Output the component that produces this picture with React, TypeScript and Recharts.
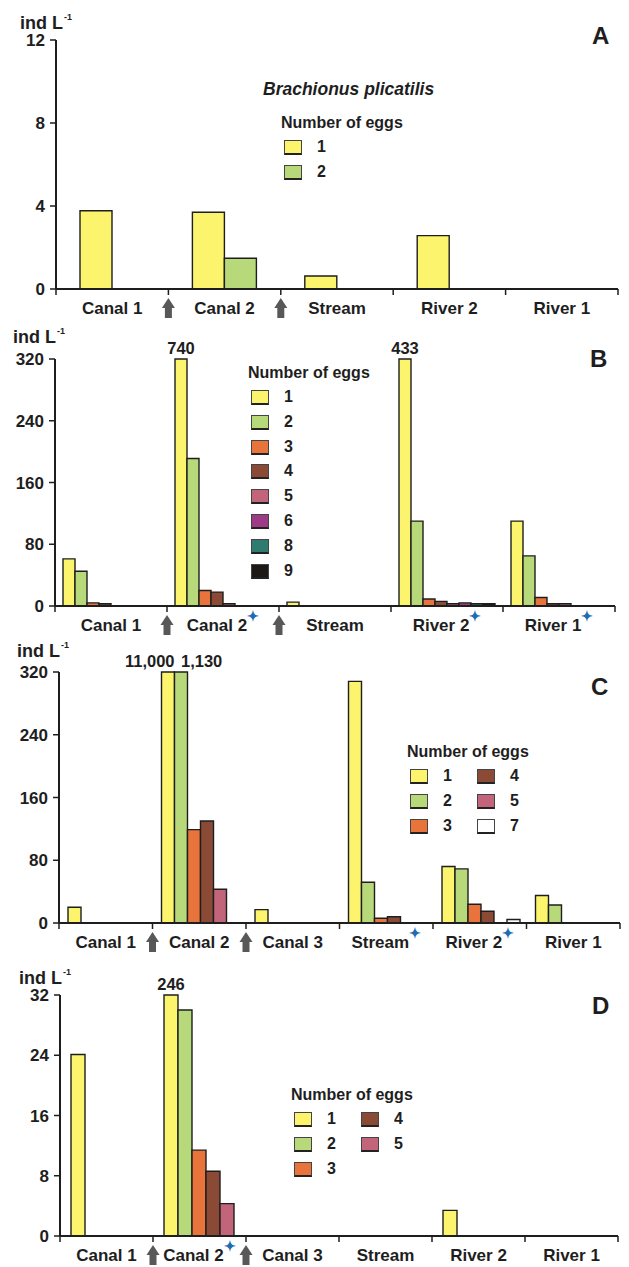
import React from "react";
import { BarChart, Bar, XAxis, YAxis, Legend, LabelList } from "recharts";

const FONT = "'Liberation Sans', Arial, Helvetica, sans-serif";
const INK = "#1e1e1e";
const STAR = "#1c6db3";

const EGG_COLORS: Record<string, string> = {
  "1": "#fbf46c",
  "2": "#b8d97a",
  "3": "#e8743c",
  "4": "#8b4a36",
  "5": "#c2657a",
  "6": "#9e3b86",
  "7": "#ffffff",
  "8": "#2e7b70",
  "9": "#1c1917",
};

// A - Brachionus plicatilis
const catsA = ["Canal 1", "Canal 2", "Stream", "River 2", "River 1"];
const ticksA = [0, 4, 8, 12];
const a1 = [3.77, 3.7, 0.63, 2.57, 0];
const a2 = [0, 1.48, 0, 0, 0];

// B
const catsB = ["Canal 1", "Canal 2", "Stream", "River 2", "River 1"];
const ticksB = [0, 80, 160, 240, 320];
const b1 = [61, 740, 5, 433, 110];
const b2 = [45, 191, 0, 110, 65];
const b3 = [4, 20, 0, 9, 11];
const b4 = [3, 18, 0, 6, 3];
const b5 = [0, 3, 0, 3, 3];
const b6 = [0, 0, 0, 4, 0];
const b8 = [0, 0, 0, 3, 0];
const b9 = [0, 0, 0, 3, 0];

// C
const catsC = ["Canal 1", "Canal 2", "Canal 3", "Stream", "River 2", "River 1"];
const ticksC = [0, 80, 160, 240, 320];
const c1 = [20, 11000, 17, 308, 72, 35];
const c2 = [0, 1130, 0, 52, 69, 23];
const c3 = [0, 119, 0, 6, 24, 0];
const c4 = [0, 130, 0, 8, 15, 0];
const c5 = [0, 43, 0, 0, 0, 0];
const c7 = [0, 0, 0, 0, 4.5, 0];

// D
const catsD = ["Canal 1", "Canal 2", "Canal 3", "Stream", "River 2", "River 1"];
const ticksD = [0, 8, 16, 24, 32];
const d1 = [24.1, 246, 0, 0, 3.4, 0];
const d2 = [0, 30, 0, 0, 0, 0];
const d3 = [0, 11.4, 0, 0, 0, 0];
const d4 = [0, 8.6, 0, 0, 0, 0];
const d5 = [0, 4.3, 0, 0, 0, 0];

type Series = { egg: string; values: number[] };
type Panel = {
  letter: string;
  top: number;
  height: number;
  plot: { left: number; right: number; top: number; bottom: number };
  cats: string[];
  ticks: number[];
  series: Series[];
  gap: number;
  arrows: number[];
  stars: string[];
  legend: { left: number; top: number; rows: number; step: number; species?: string };
  indL: { x: number; y: number };
  letterPos: { x: number; y: number };
  overflowAnchor?: string[];
};

const panels: Panel[] = [
  {
    letter: "A",
    top: 0,
    height: 320,
    plot: { left: 56, right: 618, top: 40, bottom: 289 },
    cats: catsA,
    ticks: ticksA,
    series: [
      { egg: "1", values: a1 },
      { egg: "2", values: a2 },
    ],
    gap: 24,
    arrows: [1, 2],
    stars: [],
    legend: { left: 281, top: 113, rows: 2, step: 24.5, species: "Brachionus plicatilis" },
    indL: { x: 20, y: 29 },
    letterPos: { x: 592, y: 44 },
  },
  {
    letter: "B",
    top: 320,
    height: 320,
    plot: { left: 55, right: 615, top: 359, bottom: 606 },
    cats: catsB,
    ticks: ticksB,
    series: [
      { egg: "1", values: b1 },
      { egg: "2", values: b2 },
      { egg: "3", values: b3 },
      { egg: "4", values: b4 },
      { egg: "5", values: b5 },
      { egg: "6", values: b6 },
      { egg: "8", values: b8 },
      { egg: "9", values: b9 },
    ],
    gap: 8,
    arrows: [1, 2],
    stars: ["Canal 2", "River 2", "River 1"],
    legend: { left: 248, top: 43, rows: 8, step: 24.8 },
    indL: { x: 13, y: 343 },
    letterPos: { x: 590, y: 367 },
  },
  {
    letter: "C",
    top: 640,
    height: 320,
    plot: { left: 59, right: 620, top: 672, bottom: 923 },
    cats: catsC,
    ticks: ticksC,
    series: [
      { egg: "1", values: c1 },
      { egg: "2", values: c2 },
      { egg: "3", values: c3 },
      { egg: "4", values: c4 },
      { egg: "5", values: c5 },
      { egg: "7", values: c7 },
    ],
    gap: 9,
    arrows: [1, 2],
    stars: ["Stream", "River 2"],
    legend: { left: 407, top: 102, rows: 3, step: 25 },
    indL: { x: 17, y: 657 },
    letterPos: { x: 591, y: 695 },
    overflowAnchor: ["end", "start"],
  },
  {
    letter: "D",
    top: 960,
    height: 307,
    plot: { left: 60, right: 618, top: 995, bottom: 1236 },
    cats: catsD,
    ticks: ticksD,
    series: [
      { egg: "1", values: d1 },
      { egg: "2", values: d2 },
      { egg: "3", values: d3 },
      { egg: "4", values: d4 },
      { egg: "5", values: d5 },
    ],
    gap: 11,
    arrows: [1, 2],
    stars: ["Canal 2"],
    legend: { left: 291, top: 125, rows: 3, step: 25 },
    indL: { x: 19, y: 984 },
    letterPos: { x: 592, y: 1014 },
  },
];

function CatTick(props: any) {
  const { x, y, payload, index, bw, n, arrows, stars } = props;
  const bx = x - bw / 2;
  const label = String(payload.value);
  return (
    <g>
      <line x1={bx} x2={bx} y1={y} y2={y + 6} stroke={INK} strokeWidth={1.5} />
      {index === n - 1 ? (
        <line x1={x + bw / 2} x2={x + bw / 2} y1={y} y2={y + 6} stroke={INK} strokeWidth={1.5} />
      ) : null}
      {arrows.includes(index) ? (
        <g fill="#585858">
          <polygon points={`${bx - 6.5},${y + 19} ${bx + 6.5},${y + 19} ${bx},${y + 9}`} />
          <rect x={bx - 3.5} y={y + 19} width={7} height={10} />
        </g>
      ) : null}
      <text
        x={x}
        y={y + 25}
        textAnchor="middle"
        fontSize={17}
        fontWeight="bold"
        fill={INK}
        fontFamily={FONT}
      >
        {label}
        {stars.includes(label) ? (
          <tspan fill={STAR} fontSize={14} dy={-10}>
            ✦
          </tspan>
        ) : null}
      </text>
    </g>
  );
}

function EggLegend({ payload, cfg }: any) {
  const items = (payload ?? []).map((p: any) => ({ label: String(p.value), color: p.color }));
  const { rows, step, species } = cfg.legend;
  return (
    <div
      style={{
        position: "relative",
        width: 170,
        height: 27 + rows * step,
        fontFamily: FONT,
        fontWeight: "bold",
        color: INK,
      }}
    >
      {species ? (
        <div
          style={{
            position: "absolute",
            left: -18,
            top: -34,
            fontSize: 17.5,
            fontStyle: "italic",
            lineHeight: "20px",
            whiteSpace: "nowrap",
          }}
        >
          {species}
        </div>
      ) : null}
      <div style={{ fontSize: 16, lineHeight: "20px", whiteSpace: "nowrap" }}>Number of eggs</div>
      {items.map((it: any, i: number) => {
        const col = Math.floor(i / rows);
        const row = i % rows;
        const left = 3 + col * 67;
        const top = 27 + row * step;
        return (
          <React.Fragment key={i}>
            <div
              style={{
                position: "absolute",
                left,
                top,
                width: 18,
                height: 15,
                boxSizing: "border-box",
                background: it.color,
                border: "1px solid #444",
                borderBottom: "2.5px solid #222",
              }}
            />
            <div
              style={{ position: "absolute", left: left + 33, top: top - 3, fontSize: 16, lineHeight: "20px" }}
            >
              {it.label}
            </div>
          </React.Fragment>
        );
      })}
    </div>
  );
}

function PanelChart({ cfg }: { cfg: Panel }) {
  const yMax = cfg.ticks[cfg.ticks.length - 1];
  const rows = cfg.cats.map((name, i) => {
    const row: Record<string, any> = { name };
    cfg.series.forEach((s, k) => {
      row[`v${k}`] = Math.min(s.values[i], yMax);
      row[`r${k}`] = s.values[i];
    });
    return row;
  });
  const n = cfg.cats.length;
  const bw = (cfg.plot.right - cfg.plot.left) / n;
  const axisH = 30;
  const margin = {
    top: cfg.plot.top - cfg.top,
    left: 0,
    right: 629 - cfg.plot.right,
    bottom: cfg.height - (cfg.plot.bottom - cfg.top) - axisH,
  };

  const overflowLabel = (p: any, k: number) => {
    const v = Number(p.value);
    if (!(v > yMax)) return null;
    const vb = p.viewBox && p.viewBox.width != null ? p.viewBox : p;
    const anchor = cfg.overflowAnchor?.[k] ?? "middle";
    const x = anchor === "end" ? vb.x + vb.width : vb.x + vb.width / 2;
    return (
      <text
        x={x}
        y={vb.y - 5}
        textAnchor={anchor}
        fontSize={16.5}
        fontWeight="bold"
        fill={INK}
        fontFamily={FONT}
      >
        {v.toLocaleString("en-US")}
      </text>
    );
  };

  return (
    <div style={{ position: "absolute", left: 0, top: cfg.top }}>
      <BarChart
        width={629}
        height={cfg.height}
        data={rows}
        margin={margin}
        barCategoryGap={cfg.gap}
        barGap={0}
      >
        <XAxis
          dataKey="name"
          type="category"
          height={axisH}
          interval={0}
          tickLine={false}
          tickSize={0}
          tickMargin={0}
          axisLine={{ stroke: INK, strokeWidth: 2 }}
          tick={(p: any) => (
            <CatTick {...p} bw={bw} n={n} arrows={cfg.arrows} stars={cfg.stars} />
          )}
        />
        <YAxis
          type="number"
          width={cfg.plot.left}
          domain={[0, yMax]}
          ticks={cfg.ticks}
          interval={0}
          tickSize={6}
          tickMargin={5}
          axisLine={{ stroke: INK, strokeWidth: 2 }}
          tickLine={{ stroke: INK, strokeWidth: 1.5 }}
          tick={{ fontSize: 17, fontWeight: "bold", fill: INK, fontFamily: FONT }}
        />
        <Legend
          layout="vertical"
          align="center"
          verticalAlign="middle"
          content={(p: any) => <EggLegend {...p} cfg={cfg} />}
          wrapperStyle={{ left: cfg.legend.left, top: cfg.legend.top, width: "auto", height: "auto" }}
        />
        {cfg.series.map((s, k) => (
          <Bar
            key={s.egg}
            dataKey={`v${k}`}
            name={s.egg}
            fill={EGG_COLORS[s.egg]}
            stroke={INK}
            strokeWidth={1.4}
            isAnimationActive={false}
          >
            <LabelList dataKey={`r${k}`} content={(p: any) => overflowLabel(p, k)} />
          </Bar>
        ))}
      </BarChart>
    </div>
  );
}

export default function App() {
  return (
    <div
      style={{
        position: "absolute",
        left: 0,
        top: 0,
        width: 629,
        height: 1267,
        background: "#fff",
        fontFamily: FONT,
        color: INK,
        overflow: "hidden",
      }}
    >
      {panels.map((cfg) => (
        <React.Fragment key={cfg.letter}>
          <PanelChart cfg={cfg} />
          <div
            style={{
              position: "absolute",
              left: cfg.indL.x,
              top: cfg.indL.y - 15,
              fontSize: 18,
              fontWeight: "bold",
              lineHeight: "18px",
              whiteSpace: "nowrap",
            }}
          >
            ind L
            <span style={{ fontSize: 9, position: "relative", top: -9, marginLeft: 1 }}>-1</span>
          </div>
          <div
            style={{
              position: "absolute",
              left: cfg.letterPos.x,
              top: cfg.letterPos.y - 20,
              fontSize: 24,
              fontWeight: "bold",
              lineHeight: "24px",
            }}
          >
            {cfg.letter}
          </div>
        </React.Fragment>
      ))}
    </div>
  );
}
